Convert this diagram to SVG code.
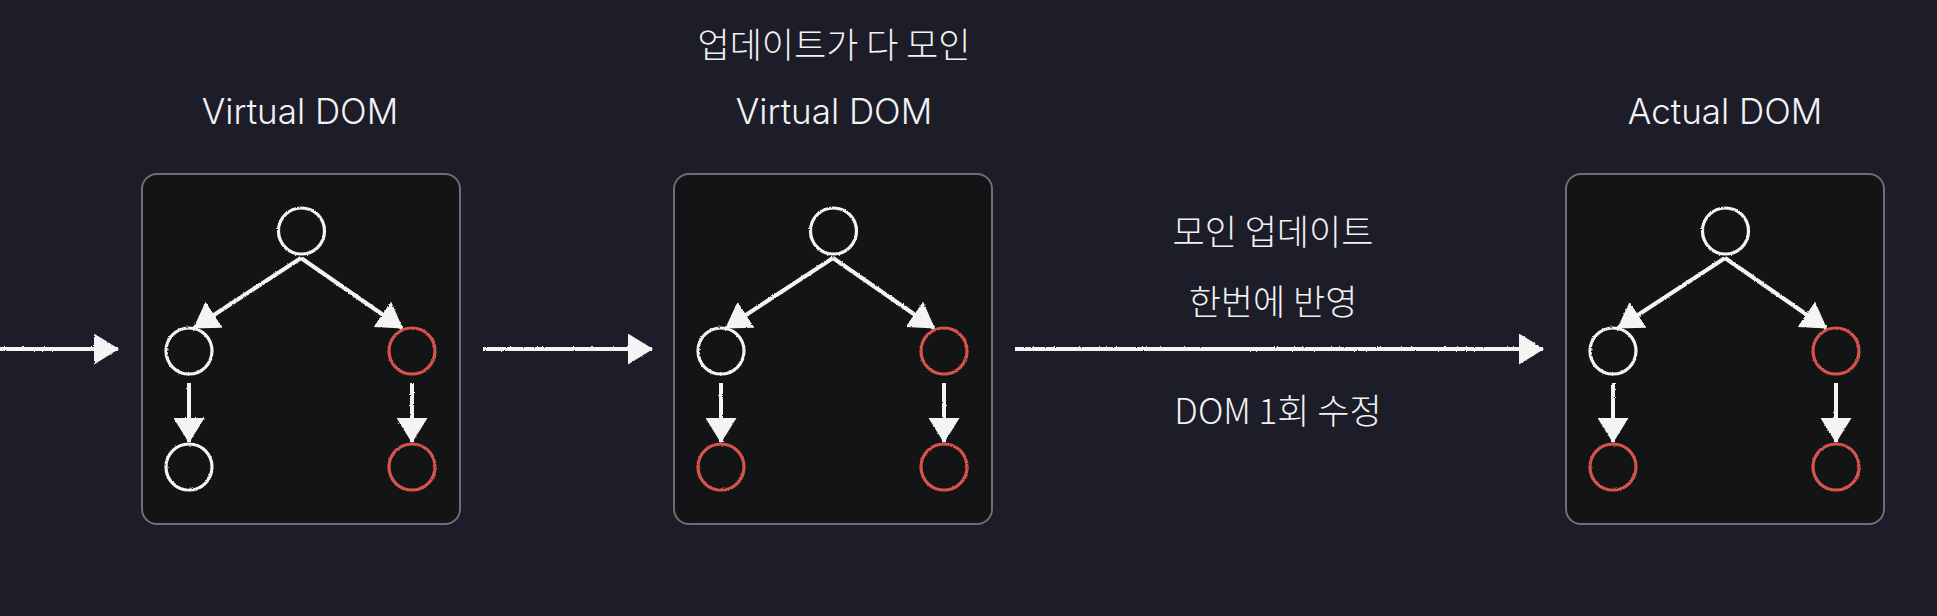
<svg xmlns="http://www.w3.org/2000/svg" width="1937" height="616" viewBox="0 0 1937 616">
<style>
.bg{fill:#1c1d29}
.panel{fill:#121415;stroke:#6e6e72;stroke-width:2}
.w{fill:none;stroke:#f4f4f4;stroke-width:3.2}
.r{fill:none;stroke:#d9534e;stroke-width:3.2}
.ln{fill:none;stroke:#f4f4f4;stroke-width:4;marker-end:url(#ah)}
.t{fill:#f2f2f2;font-family:Inter,"Noto Sans","Noto Sans CJK KR",sans-serif;font-size:35px;font-weight:300;text-anchor:middle}
.k{fill:#f2f2f2;font-family:"Noto Sans CJK KR",sans-serif;font-size:35px;font-weight:300;text-anchor:middle}
</style>
<defs>
<filter id="chalk" x="-10%" y="-10%" width="120%" height="120%">
<feTurbulence type="fractalNoise" baseFrequency="0.9" numOctaves="2" seed="3" result="n"/>
<feDisplacementMap in="SourceGraphic" in2="n" scale="2.2" xChannelSelector="R" yChannelSelector="G"/>
</filter>
<marker id="ah" viewBox="0 0 25 31" refX="24" refY="15.5" markerWidth="25" markerHeight="31" markerUnits="userSpaceOnUse" orient="auto">
<path d="M0,0 L25,15.5 L0,31 Z" fill="#f4f4f4"/>
</marker>
</defs>
<rect class="bg" x="0" y="0" width="1937" height="616"/>

<text class="t" x="300" y="124">Virtual DOM</text>
<text class="k" x="834" y="58">업데이트가 다 모인</text>
<text class="t" x="834" y="124">Virtual DOM</text>
<text class="t" x="1725" y="124">Actual DOM</text>
<text class="k" x="1273" y="245">모인 업데이트</text>
<text class="k" x="1273" y="315">한번에 반영</text>
<text class="k" x="1278" y="424">DOM 1회 수정</text>

<g id="panel1" transform="translate(142,174)">
<rect class="panel" x="0" y="0" width="318" height="350" rx="15"/>
<g filter="url(#chalk)">
<g id="p1-root"><circle class="w" cx="159.5" cy="57" r="23"/></g>
<g id="p1-left"><circle class="w" cx="47" cy="177" r="23"/></g>
<g id="p1-right"><circle class="r" cx="270" cy="177" r="23"/></g>
<g id="p1-left-child"><circle class="w" cx="47" cy="293" r="23"/></g>
<g id="p1-right-child"><circle class="r" cx="270" cy="293" r="23"/></g>
</g>
</g>

<g id="panel2" transform="translate(674,174)">
<rect class="panel" x="0" y="0" width="318" height="350" rx="15"/>
<g filter="url(#chalk)">
<g id="p2-root"><circle class="w" cx="159.5" cy="57" r="23"/></g>
<g id="p2-left"><circle class="w" cx="47" cy="177" r="23"/></g>
<g id="p2-right"><circle class="r" cx="270" cy="177" r="23"/></g>
<g id="p2-left-child"><circle class="r" cx="47" cy="293" r="23"/></g>
<g id="p2-right-child"><circle class="r" cx="270" cy="293" r="23"/></g>
</g>
</g>

<g id="panel3" transform="translate(1566,174)">
<rect class="panel" x="0" y="0" width="318" height="350" rx="15"/>
<g filter="url(#chalk)">
<g id="p3-root"><circle class="w" cx="159.5" cy="57" r="23"/></g>
<g id="p3-left"><circle class="w" cx="47" cy="177" r="23"/></g>
<g id="p3-right"><circle class="r" cx="270" cy="177" r="23"/></g>
<g id="p3-left-child"><circle class="r" cx="47" cy="293" r="23"/></g>
<g id="p3-right-child"><circle class="r" cx="270" cy="293" r="23"/></g>
</g>
</g>

<g id="connectors" filter="url(#chalk)">
<line class="ln" x1="0" y1="349" x2="118" y2="349"/>
<line class="ln" x1="483" y1="349" x2="652" y2="349"/>
<line class="ln" x1="1015" y1="349" x2="1543" y2="349"/>
<g transform="translate(142,174)">
<line class="ln" x1="159" y1="84" x2="52" y2="154"/>
<line class="ln" x1="159" y1="84" x2="260" y2="154"/>
<line class="ln" x1="47" y1="209" x2="47" y2="268"/>
<line class="ln" x1="270" y1="209" x2="270" y2="268"/>
</g>
<g transform="translate(674,174)">
<line class="ln" x1="159" y1="84" x2="52" y2="154"/>
<line class="ln" x1="159" y1="84" x2="260" y2="154"/>
<line class="ln" x1="47" y1="209" x2="47" y2="268"/>
<line class="ln" x1="270" y1="209" x2="270" y2="268"/>
</g>
<g transform="translate(1566,174)">
<line class="ln" x1="159" y1="84" x2="52" y2="154"/>
<line class="ln" x1="159" y1="84" x2="260" y2="154"/>
<line class="ln" x1="47" y1="209" x2="47" y2="268"/>
<line class="ln" x1="270" y1="209" x2="270" y2="268"/>
</g>
</g>
</svg>
